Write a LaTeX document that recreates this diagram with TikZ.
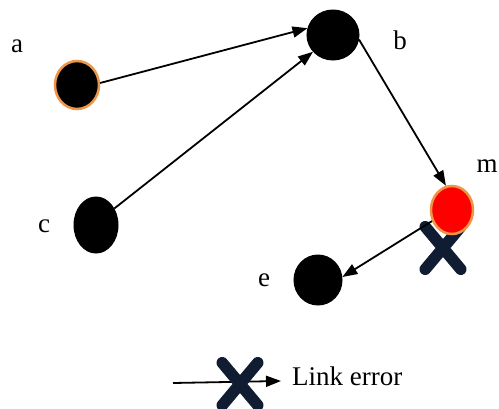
\documentclass[tikz,border=0pt]{standalone}
\usepackage{fontspec}
\setmainfont{Liberation Serif}
\usetikzlibrary{shapes.geometric,shapes.misc,arrows.meta}
\definecolor{rim}{RGB}{238,150,70}
\definecolor{xcol}{RGB}{16,28,50}
\tikzset{
  vtx/.style={ellipse,fill=black,draw=black,line width=1pt,inner sep=0pt},
  hot/.style={draw=rim,line width=2.5pt},
  lbl/.style={inner sep=0pt,font=\fontsize{27}{30}\selectfont},
  link/.style={line width=1.8pt,-{Triangle[length=15pt,width=11pt]}},
  fail/.style={cross out,draw=xcol,line width=11.5pt,line cap=round,inner sep=0pt,minimum width=24pt,minimum height=31pt}
}
\begin{document}
\begin{tikzpicture}[x=1pt,y=-1pt]
\useasboundingbox[fill=white] (0,0) rectangle (499,408);
% failure mark (behind m)
\node[fail] (x1) at (443,248) {};
% vertices
\node[vtx,hot,minimum width=44pt,minimum height=48pt] (a) at (77,85) {};
\node[vtx,minimum width=52pt,minimum height=50pt] (b) at (333,35) {};
\node[vtx,minimum width=44pt,minimum height=56pt] (c) at (96,225) {};
\node[vtx,minimum width=48pt,minimum height=50pt] (e) at (318,280) {};
\node[vtx,hot,fill=red,minimum width=42pt,minimum height=48pt] (m) at (452,210) {};
% labels
\node[lbl] (la) at (17,46) {a};
\node[lbl] (lb) at (400,40) {b};
\node[lbl] (lc) at (44,226) {c};
\node[lbl] (le) at (264,280) {e};
\node[lbl] (lm) at (487,166) {m};
% links
\draw[link] (a.5) -- (b.165);
\draw[link] (c.42) -- (b.220);
\draw[link] (b.-10) -- (m.104);
\draw[link] (m.209) -- (e.7);
% legend
\coordinate (g0) at (173,383);
\coordinate (g1) at (281,381);
\draw[link] (g0) -- (g1);
\node[fail] (x2) at (240,384) {};
\node[lbl,anchor=base west] (lerr) at (292,385) {Link error};
\end{tikzpicture}
\end{document}
